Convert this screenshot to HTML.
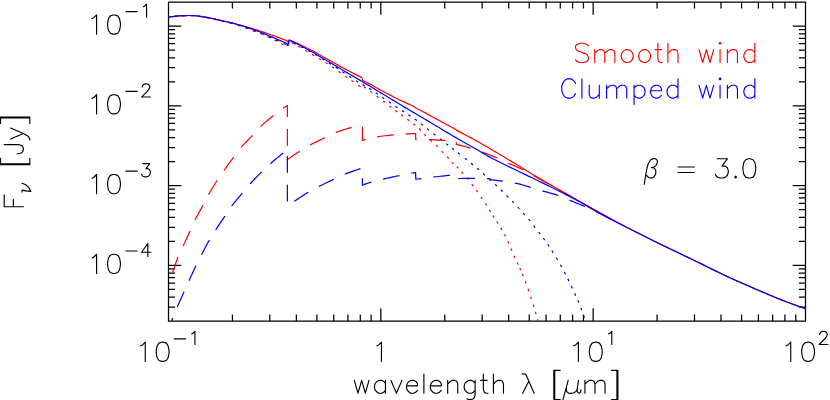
<!DOCTYPE html>
<html><head><meta charset="utf-8"><title>Smooth vs clumped wind spectrum</title>
<style>html,body{margin:0;padding:0;background:#fff;font-family:"Liberation Sans",sans-serif}svg{display:block}</style></head>
<body>
<svg width="830" height="400" viewBox="0 0 830 400">
<rect width="830" height="400" fill="#fff"/>
<defs><clipPath id="c"><rect x="168.5" y="2.0" width="637.0" height="319.1"/></clipPath></defs>
<path d="M232.42 321.1 v-6.6M232.42 2 v6.6M269.81 321.1 v-6.6M269.81 2 v6.6M296.34 321.1 v-6.6M296.34 2 v6.6M316.91 321.1 v-6.6M316.91 2 v6.6M333.73 321.1 v-6.6M333.73 2 v6.6M347.94 321.1 v-6.6M347.94 2 v6.6M360.26 321.1 v-6.6M360.26 2 v6.6M371.12 321.1 v-6.6M371.12 2 v6.6M380.83 321.1 v-12.8M380.83 2 v12.8M444.75 321.1 v-6.6M444.75 2 v6.6M482.14 321.1 v-6.6M482.14 2 v6.6M508.67 321.1 v-6.6M508.67 2 v6.6M529.25 321.1 v-6.6M529.25 2 v6.6M546.06 321.1 v-6.6M546.06 2 v6.6M560.28 321.1 v-6.6M560.28 2 v6.6M572.59 321.1 v-6.6M572.59 2 v6.6M583.45 321.1 v-6.6M583.45 2 v6.6M593.17 321.1 v-12.8M593.17 2 v12.8M657.09 321.1 v-6.6M657.09 2 v6.6M694.48 321.1 v-6.6M694.48 2 v6.6M721 321.1 v-6.6M721 2 v6.6M741.58 321.1 v-6.6M741.58 2 v6.6M758.39 321.1 v-6.6M758.39 2 v6.6M772.61 321.1 v-6.6M772.61 2 v6.6M784.92 321.1 v-6.6M784.92 2 v6.6M795.78 321.1 v-6.6M795.78 2 v6.6M168.5 307.05 h6.6M805.5 307.05 h-6.6M168.5 297.09 h6.6M805.5 297.09 h-6.6M168.5 289.35 h6.6M805.5 289.35 h-6.6M168.5 283.04 h6.6M805.5 283.04 h-6.6M168.5 277.7 h6.6M805.5 277.7 h-6.6M168.5 273.07 h6.6M805.5 273.07 h-6.6M168.5 268.99 h6.6M805.5 268.99 h-6.6M168.5 265.34 h12.8M805.5 265.34 h-12.8M168.5 241.33 h6.6M805.5 241.33 h-6.6M168.5 227.28 h6.6M805.5 227.28 h-6.6M168.5 217.31 h6.6M805.5 217.31 h-6.6M168.5 209.58 h6.6M805.5 209.58 h-6.6M168.5 203.26 h6.6M805.5 203.26 h-6.6M168.5 197.92 h6.6M805.5 197.92 h-6.6M168.5 193.3 h6.6M805.5 193.3 h-6.6M168.5 189.21 h6.6M805.5 189.21 h-6.6M168.5 185.56 h12.8M805.5 185.56 h-12.8M168.5 161.55 h6.6M805.5 161.55 h-6.6M168.5 147.5 h6.6M805.5 147.5 h-6.6M168.5 137.54 h6.6M805.5 137.54 h-6.6M168.5 129.8 h6.6M805.5 129.8 h-6.6M168.5 123.49 h6.6M805.5 123.49 h-6.6M168.5 118.15 h6.6M805.5 118.15 h-6.6M168.5 113.52 h6.6M805.5 113.52 h-6.6M168.5 109.44 h6.6M805.5 109.44 h-6.6M168.5 105.79 h12.8M805.5 105.79 h-12.8M168.5 81.78 h6.6M805.5 81.78 h-6.6M168.5 67.73 h6.6M805.5 67.73 h-6.6M168.5 57.76 h6.6M805.5 57.76 h-6.6M168.5 50.03 h6.6M805.5 50.03 h-6.6M168.5 43.71 h6.6M805.5 43.71 h-6.6M168.5 38.37 h6.6M805.5 38.37 h-6.6M168.5 33.75 h6.6M805.5 33.75 h-6.6M168.5 29.66 h6.6M805.5 29.66 h-6.6M168.5 26.01 h12.8M805.5 26.01 h-12.8" stroke="#000" stroke-width="1.25" fill="none"/>
<rect x="168.5" y="2.0" width="637.0" height="319.1" fill="none" stroke="#000" stroke-width="1.25" stroke-linejoin="round"/>
<g clip-path="url(#c)" fill="none" stroke-width="1.22" stroke-linejoin="round">
<path d="M173.6 16.52L176.08 16.21M181.67 15.89L184.17 15.81M189.77 15.71L192.27 15.72M197.84 16.22L200.31 16.58M205.84 17.46L208.3 17.94M213.75 19.21L216.18 19.78M221.63 21.09L224.06 21.69M229.48 23.09L231.9 23.73M237.3 25.21L239.69 25.92M245 27.69L247.35 28.57M252.58 30.56L254.93 31.42M260.09 33.29L262.39 34.26M267.38 36.7L269.63 37.78M274.48 40.05L276.7 41.2M281.4 43.9L283.61 45.08M287.69 45.98L288.16 43.53M291.37 42.38L293.6 43.49M298.33 46.26L300.48 47.53M305.17 50.27L307.32 51.54M312.03 54.36L314.18 55.64M318.93 58.46L321.07 59.75M325.44 62.43L327.55 63.78M332.07 66.8L334.13 68.21M338.73 71.48L340.77 72.92M345.18 75.98L347.22 77.43M351.48 80.48L353.53 81.91M358.23 85.18L360.26 86.63M363.75 86.82L365.83 88.2M370.23 91.27L372.26 92.74M376.71 96.04L378.69 97.56M383.02 100.98L384.98 102.52M389.31 105.93L391.3 107.46M395.29 110.43L397.31 111.91M401.32 114.85L403.33 116.34M407.31 119.33L409.33 120.81M413.33 123.78L415.3 125.32M419.08 128.55L420.88 130.29M424.17 134.07L425.9 135.87M430.07 139.76L431.94 141.43M436.09 145.14L437.85 146.92M441.57 151.07L443.28 152.89M447.13 156.7L448.82 158.54M451.78 162.06L453.52 163.84M456.68 166.56L458.46 168.31M461.57 171.76L463.26 173.61M467.18 177.75L468.75 179.7M471.8 184.16L473.26 186.19M476.24 190.01L477.7 192.04M480.91 196.96L482.32 199.03M485.3 203.36L486.66 205.46M489.36 209.93L490.67 212.05M492.92 215.55L494.29 217.64M496.72 221.35L498.06 223.46M500.76 227.92L502.03 230.08M504.4 234.3L505.55 236.52M507.77 241.17L508.82 243.44M511.01 248.35L511.93 250.67M513.97 255.73L514.91 258.04M517.05 262.48L518.16 264.72M519.76 268.07L520.81 270.33M522.26 273.75L523.22 276.06M525.24 281.14L526.1 283.48M528 288.82L528.82 291.18M530.7 296.62L531.46 299M533.14 304.5L533.88 306.89M535.42 311.91L536.12 314.31M537.46 319.1L538.09 321.52" stroke="#f00"/>
<path d="M174.91 16.36L177.39 16.1M182.98 15.8L185.48 15.7M191.08 15.61L193.58 15.69M199.14 16.3L201.61 16.68M207.14 17.59L209.59 18.09M215.05 19.33L217.49 19.88M222.94 21.16L225.37 21.75M230.8 23.12L233.22 23.74M238.62 25.21L241.02 25.93M246.3 27.79L248.64 28.68M253.88 30.65L256.22 31.53M261.43 33.57L263.74 34.53M268.86 36.8L271.13 37.84M276.26 40.09L278.62 40.92M283.8 43L285.82 44.44M288.08 43.62L288.57 41.17M293.58 43.16L295.85 44.21M300.89 46.65L303.11 47.79M308.03 50.47L310.21 51.69M315.06 54.5L317.2 55.79M321.97 58.72L324.1 60.04M328.85 62.99L330.97 64.32M335.7 67.32L337.8 68.68M342.46 71.8L344.54 73.19M349.21 76.31L351.29 77.69M355.96 80.8L358.03 82.2M362.82 84.41L364.78 85.96M369.12 88.37L371.25 89.68M375.77 92.79L377.83 94.21M382.22 97.29L384.29 98.7M388.96 101.8L391.03 103.21M395.47 106.29L397.54 107.69M401.92 110.53L404.03 111.88M408.4 114.73L410.47 116.13M414.77 119.09L416.81 120.54M421.01 123.64L422.97 125.18M427.04 128.6L428.98 130.18M433.41 133.64L435.39 135.16M440.01 138.64L441.97 140.19M446.04 143.6L447.98 145.17M452 148.24L453.99 149.76M458.01 152.84L459.99 154.36M465.02 158.23L466.97 159.79M471.04 163.2L472.96 164.8M477.05 168.19L478.94 169.83M483.07 173.56L484.93 175.24M489.07 178.96L490.93 180.63M495.08 184.36L496.91 186.06M500.71 189.73L502.49 191.48M506.52 195.51L508.29 197.28M512.13 201.11L513.86 202.9M517.75 207.08L519.44 208.93M523.17 213.07L524.85 214.92M528.58 219.06L530.18 220.98M533.65 225.6L535.17 227.59M538.63 232.01L540.17 233.99M543.25 238L544.73 240.02M547.7 244.27L549.08 246.35M551.83 250.65L553.19 252.74M556.35 257.63L557.61 259.79M560.4 264.8L561.62 266.99M564.41 272L565.55 274.22M567.86 278.87L568.93 281.13M571.27 286.12L572.33 288.38M574.67 293.37L575.72 295.64M577.79 300.26L578.76 302.56M580.81 307.93L581.7 310.27M583.56 315.33L584.41 317.68" stroke="#00f"/>
<path d="M170 280.3 L172.02 274.39 L174.05 268.35 L176.07 262.25 L178.1 256.76 L180.12 252.22 L182.14 248.05 L184.17 243.75 L186.19 239.45 L188.22 235.12 L190.24 230.72 L192.27 226.07 L194.29 221.49 L196.31 217.41 L198.34 213.68 L200.36 210.08 L202.39 206.4 L204.41 202.49 L206.43 198.53 L208.46 194.78 L210.48 191.23 L212.51 187.81 L214.53 184.5 L216.56 181.29 L218.58 178.21 L220.6 175.26 L222.63 172.38 L224.65 169.51 L226.68 166.67 L228.7 163.86 L230.72 161.09 L232.75 158.34 L234.77 155.59 L236.8 152.84 L238.82 150.19 L240.84 147.71 L242.87 145.44 L244.89 143.31 L246.92 141.25 L248.94 139.19 L250.97 137.08 L252.99 134.85 L255.01 132.5 L257.04 130.16 L259.06 127.94 L261.09 125.96 L263.11 124.12 L265.13 122.37 L267.16 120.69 L269.18 119.06 L271.21 117.44 L273.23 115.81 L275.26 114.17 L277.28 112.54 L279.3 110.96 L281.33 109.47 L283.35 108.09 L285.38 106.8 L287.4 105.6 L287.4 159.6 L289.43 158.12 L291.45 156.68 L293.48 155.27 L295.51 153.89 L297.54 152.55 L299.56 151.24 L301.59 149.96 L303.62 148.7 L305.64 147.48 L307.67 146.29 L309.7 145.16 L311.72 144.09 L313.75 143.07 L315.78 142.08 L317.81 141.11 L319.83 140.16 L321.86 139.21 L323.89 138.25 L325.91 137.25 L327.94 136.21 L329.97 135.17 L331.99 134.16 L334.02 133.21 L336.05 132.38 L338.08 131.63 L340.1 130.91 L342.13 130.23 L344.16 129.59 L346.18 128.99 L348.21 128.44 L350.24 127.92 L352.26 127.45 L354.29 127.01 L356.32 126.6 L358.35 126.23 L360.37 125.9 L362.4 125.6 L362.4 140.3 L364.45 139.7 L366.49 139.13 L368.54 138.59 L370.58 138.09 L372.63 137.64 L374.68 137.23 L376.72 136.88 L378.77 136.56 L380.82 136.27 L382.86 136 L384.91 135.75 L386.95 135.52 L389 135.3 L391.05 135.09 L393.09 134.89 L395.14 134.7 L397.18 134.51 L399.23 134.34 L401.28 134.19 L403.32 134.06 L405.37 133.95 L407.42 133.86 L409.46 133.77 L411.51 133.7 L413.55 133.64 L415.6 133.6 L415.6 139.2 L417.64 139.23 L419.68 139.26 L421.72 139.31 L423.76 139.37 L425.8 139.43 L427.84 139.49 L429.88 139.57 L431.92 139.67 L433.96 139.78 L436 139.9 L438.04 140.02 L440.08 140.15 L442.12 140.28 L444.16 140.41 L446.2 140.53 L448.24 140.66 L450.28 140.79 L452.32 140.93 L454.36 141.06 L456.4 141.2 L456.4 144.5 L458.4 144.95 L460.4 145.42 L462.4 145.92 L464.41 146.44 L466.41 146.98 L468.41 147.54 L470.41 148.12 L472.41 148.73 L474.41 149.38 L476.41 150.05 L478.42 150.75 L480.42 151.46 L482.42 152.19 L484.42 152.93 L486.42 153.69 L488.42 154.47 L490.42 155.26 L492.42 156.08 L494.43 156.91 L496.43 157.76 L498.43 158.62 L500.43 159.51 L502.43 160.43 L504.43 161.36 L506.43 162.28 L508.44 163.2 L510.44 164.09 L512.44 164.97 L514.44 165.84 L516.44 166.72 L518.44 167.62 L520.44 168.55 L522.45 169.52 L524.45 170.55 L526.45 171.65 L528.45 172.79 L530.45 173.95 L532.45 175.09 L534.45 176.21 L536.45 177.32 L538.46 178.43 L540.46 179.53 L542.46 180.64 L544.46 181.74 L546.46 182.85 L548.46 183.95 L550.46 185.06 L552.47 186.17 L554.47 187.28 L556.47 188.41 L558.47 189.53 L560.47 190.67 L562.47 191.81 L564.47 192.97 L566.48 194.13 L568.48 195.29 L570.48 196.46 L572.48 197.63 L574.48 198.8 L576.48 199.97 L578.48 201.13 L580.48 202.28 L582.49 203.43 L584.49 204.57 L586.49 205.72 L588.49 206.86 L590.49 208 L592.49 209.14 L594.49 210.28 L596.5 211.41 L598.5 212.54 L600.5 213.67 L602.5 214.8" stroke="#f00" stroke-dasharray="16.64 12.08" stroke-dashoffset="20.8"/>
<path d="M167.5 331 L169.53 325.18 L171.56 320.82 L173.6 316.08 L175.63 310.88 L177.66 305.96 L179.69 301.39 L181.73 296.95 L183.76 292.48 L185.79 287.89 L187.82 283.31 L189.85 278.83 L191.89 274.39 L193.92 270.05 L195.95 265.84 L197.98 261.72 L200.02 257.66 L202.05 253.67 L204.08 249.78 L206.11 245.98 L208.14 242.32 L210.18 238.8 L212.21 235.46 L214.24 232.22 L216.27 229.04 L218.31 225.92 L220.34 222.87 L222.37 219.84 L224.4 216.8 L226.43 213.7 L228.47 210.62 L230.5 207.69 L232.53 204.98 L234.56 202.43 L236.59 199.97 L238.63 197.56 L240.66 195.14 L242.69 192.66 L244.72 190.13 L246.76 187.63 L248.79 185.24 L250.82 182.99 L252.85 180.82 L254.88 178.72 L256.92 176.66 L258.95 174.64 L260.98 172.62 L263.01 170.62 L265.05 168.65 L267.08 166.72 L269.11 164.84 L271.14 163.03 L273.17 161.27 L275.21 159.55 L277.24 157.86 L279.27 156.18 L281.3 154.51 L283.34 152.83 L285.37 151.16 L287.4 149.5 L287.4 205.5 L289.43 204.25 L291.45 202.99 L293.48 201.73 L295.51 200.44 L297.54 199.12 L299.56 197.78 L301.59 196.44 L303.62 195.12 L305.64 193.83 L307.67 192.59 L309.7 191.41 L311.72 190.27 L313.75 189.16 L315.78 188.07 L317.81 187.01 L319.83 185.98 L321.86 184.97 L323.89 183.98 L325.91 183.01 L327.94 182.05 L329.97 181.1 L331.99 180.15 L334.02 179.2 L336.05 178.23 L338.08 177.26 L340.1 176.29 L342.13 175.37 L344.16 174.5 L346.18 173.68 L348.21 172.89 L350.24 172.12 L352.26 171.37 L354.29 170.65 L356.32 169.96 L358.35 169.3 L360.37 168.67 L362.4 168.1 L362.4 185.2 L364.45 184.42 L366.49 183.67 L368.54 182.96 L370.58 182.3 L372.63 181.7 L374.68 181.15 L376.72 180.63 L378.77 180.13 L380.82 179.65 L382.86 179.17 L384.91 178.7 L386.95 178.23 L389 177.78 L391.05 177.33 L393.09 176.89 L395.14 176.45 L397.18 176.01 L399.23 175.58 L401.28 175.13 L403.32 174.65 L405.37 174.17 L407.42 173.72 L409.46 173.33 L411.51 173.01 L413.55 172.78 L415.6 172.6 L415.8 179.2 L417.84 179 L419.88 178.79 L421.92 178.56 L423.96 178.31 L426 178.05 L428.04 177.77 L430.08 177.49 L432.12 177.23 L434.16 176.98 L436.2 176.74 L438.24 176.5 L440.28 176.26 L442.32 176.02 L444.36 175.81 L446.4 175.63 L448.44 175.48 L450.48 175.38 L452.52 175.3 L454.56 175.24 L456.6 175.2 L456.6 178.9 L458.7 178.66 L460.8 178.5 L462.9 178.48 L465 178.45 L467.1 178.43 L469.2 178.42 L471.3 178.41 L473.4 178.4 L475.5 178.4 L477.6 178.4 L479.7 178.42 L481.8 178.47 L483.9 178.53 L486 178.61 L488.1 178.7 L490.2 178.8 L490.4 179.7 L492.42 179.88 L494.45 180.08 L496.47 180.3 L498.5 180.54 L500.52 180.79 L502.55 181.06 L504.57 181.34 L506.6 181.63 L508.62 181.95 L510.65 182.28 L512.67 182.65 L514.7 183.04 L516.73 183.45 L518.75 183.91 L520.77 184.44 L522.8 185.03 L524.82 185.65 L526.85 186.29 L528.88 186.93 L530.9 187.55 L532.92 188.15 L534.95 188.73 L536.98 189.31 L539 189.89 L541.02 190.46 L543.05 191.04 L545.08 191.62 L547.1 192.2 L549.12 192.75 L551.15 193.31 L553.17 193.87 L555.2 194.46 L557.23 195.08 L559.25 195.74 L561.27 196.47 L563.3 197.29 L565.33 198.18 L567.35 199.1 L569.38 200.02 L571.4 200.91 L573.42 201.77 L575.45 202.61 L577.48 203.44 L579.5 204.27 L581.52 205.11 L583.55 205.96 L585.58 206.84 L587.6 207.74 L589.62 208.65 L591.65 209.58 L593.67 210.53 L595.7 211.5 L597.73 212.48 L599.75 213.48 L601.77 214.49 L603.8 215.51 L605.83 216.55 L607.85 217.6 L609.88 218.66 L611.9 219.74 L613.92 220.83 L615.95 221.94 L617.98 223.06 L620 224.2" stroke="#00f" stroke-dasharray="16.64 12.08" stroke-dashoffset="2.7"/>
<path d="M168.5 17.3 L170.51 16.9 L172.51 16.57 L174.52 16.31 L176.52 16.09 L178.53 15.92 L180.53 15.77 L182.54 15.64 L184.54 15.56 L186.55 15.53 L188.55 15.51 L190.56 15.5 L192.56 15.54 L194.57 15.72 L196.57 15.95 L198.58 16.18 L200.58 16.44 L202.59 16.73 L204.59 17.03 L206.6 17.37 L208.6 17.73 L210.61 18.12 L212.61 18.56 L214.62 19.02 L216.62 19.48 L218.63 19.94 L220.63 20.39 L222.64 20.84 L224.64 21.3 L226.65 21.76 L228.65 22.23 L230.66 22.71 L232.66 23.2 L234.67 23.71 L236.67 24.24 L238.68 24.79 L240.68 25.34 L242.69 25.89 L244.69 26.43 L246.7 26.97 L248.7 27.53 L250.71 28.11 L252.71 28.7 L254.72 29.31 L256.72 29.93 L258.73 30.57 L260.73 31.22 L262.74 31.88 L264.74 32.56 L266.75 33.26 L268.75 33.98 L270.76 34.71 L272.76 35.44 L274.77 36.17 L276.77 36.89 L278.78 37.63 L280.78 38.36 L282.79 39.11 L284.79 39.85 L286.8 40.6 L287.7 41.6 L288.3 41 L289.3 40 L291.31 40.82 L293.33 41.66 L295.34 42.52 L297.36 43.4 L299.37 44.31 L301.38 45.24 L303.4 46.2 L305.41 47.18 L307.43 48.18 L309.44 49.21 L311.45 50.25 L313.47 51.31 L315.48 52.41 L317.49 53.54 L319.51 54.68 L321.52 55.83 L323.54 56.98 L325.55 58.11 L327.56 59.24 L329.58 60.36 L331.59 61.49 L333.61 62.62 L335.62 63.75 L337.63 64.87 L339.65 66.01 L341.66 67.15 L343.68 68.28 L345.69 69.37 L347.7 70.45 L349.72 71.51 L351.73 72.56 L353.74 73.6 L355.76 74.63 L357.77 75.63 L359.79 76.63 L361.8 77.6 L362.8 80.6 L364.86 81.48 L366.92 82.45 L368.98 83.51 L371.04 84.64 L373.1 85.81 L375.16 87 L377.22 88.19 L379.28 89.36 L381.34 90.48 L383.4 91.58 L385.46 92.67 L387.52 93.74 L389.58 94.81 L391.64 95.87 L393.7 96.92 L395.76 97.94 L397.82 98.96 L399.88 99.95 L401.94 100.94 L404 101.92 L406.06 102.88 L408.12 103.83 L410.18 104.77 L412.24 105.69 L414.3 106.6 L415.7 108 L417.7 108.96 L419.71 109.95 L421.71 110.99 L423.72 112.06 L425.73 113.16 L427.73 114.26 L429.74 115.36 L431.74 116.44 L433.75 117.53 L435.75 118.61 L437.75 119.7 L439.76 120.79 L441.76 121.87 L443.77 122.96 L445.77 124.05 L447.78 125.14 L449.79 126.23 L451.79 127.32 L453.8 128.41 L455.8 129.5 L457 130.6 L459 131.6 L461.01 132.61 L463.01 133.64 L465.01 134.68 L467.01 135.73 L469.02 136.8 L471.02 137.88 L473.02 138.96 L475.03 140.06 L477.03 141.17 L479.03 142.29 L481.03 143.41 L483.04 144.54 L485.04 145.68 L487.04 146.84 L489.05 148.03 L491.05 149.23 L493.05 150.42 L495.05 151.61 L497.06 152.79 L499.06 153.98 L501.06 155.16 L503.07 156.35 L505.07 157.53 L507.07 158.72 L509.07 159.91 L511.08 161.11 L513.08 162.31 L515.08 163.51 L517.09 164.73 L519.09 165.94 L521.09 167.17 L523.09 168.42 L525.1 169.68 L527.1 170.95 L529.1 172.21 L531.11 173.45 L533.11 174.67 L535.11 175.87 L537.11 177.05 L539.12 178.23 L541.12 179.4 L543.12 180.56 L545.13 181.71 L547.13 182.86 L549.13 184.01 L551.14 185.15 L553.14 186.29 L555.14 187.43 L557.14 188.57 L559.15 189.71 L561.15 190.86 L563.15 192 L565.16 193.13 L567.16 194.27 L569.16 195.4 L571.16 196.53 L573.17 197.66 L575.17 198.78 L577.17 199.91 L579.18 201.04 L581.18 202.16 L583.18 203.29 L585.18 204.42 L587.19 205.54 L589.19 206.67 L591.19 207.79 L593.2 208.91 L595.2 210.04 L597.2 211.15 L599.2 212.27 L601.21 213.38 L603.21 214.49 L605.21 215.6 L607.22 216.72 L609.22 217.83 L611.22 218.93 L613.22 220.03 L615.23 221.13 L617.23 222.22 L619.23 223.29 L621.24 224.35 L623.24 225.41 L625.24 226.45 L627.24 227.49 L629.25 228.52 L631.25 229.55 L633.25 230.57 L635.26 231.59 L637.26 232.61 L639.26 233.63 L641.26 234.64 L643.27 235.66 L645.27 236.67 L647.27 237.68 L649.28 238.68 L651.28 239.68 L653.28 240.68 L655.28 241.68 L657.29 242.67 L659.29 243.65 L661.29 244.63 L663.3 245.6 L665.3 246.57 L667.3 247.53 L669.3 248.49 L671.31 249.45 L673.31 250.4 L675.31 251.36 L677.32 252.31 L679.32 253.27 L681.32 254.23 L683.32 255.19 L685.33 256.15 L687.33 257.1 L689.33 258.05 L691.34 259.01 L693.34 259.97 L695.34 260.93 L697.34 261.9 L699.35 262.88 L701.35 263.87 L703.35 264.87 L705.36 265.88 L707.36 266.89 L709.36 267.89 L711.36 268.87 L713.37 269.85 L715.37 270.83 L717.37 271.81 L719.38 272.78 L721.38 273.74 L723.38 274.7 L725.39 275.65 L727.39 276.59 L729.39 277.52 L731.39 278.44 L733.4 279.34 L735.4 280.24 L737.4 281.12 L739.41 282 L741.41 282.87 L743.41 283.74 L745.41 284.61 L747.42 285.48 L749.42 286.35 L751.42 287.22 L753.43 288.09 L755.43 288.97 L757.43 289.84 L759.43 290.71 L761.44 291.57 L763.44 292.43 L765.44 293.29 L767.45 294.13 L769.45 294.97 L771.45 295.8 L773.45 296.62 L775.46 297.44 L777.46 298.25 L779.46 299.06 L781.47 299.86 L783.47 300.65 L785.47 301.44 L787.47 302.22 L789.48 303 L791.48 303.77 L793.48 304.54 L795.49 305.29 L797.49 306.05 L799.49 306.79 L801.49 307.54 L803.5 308.27 L805.5 309" stroke="#f00"/>
<path d="M168.5 17.3 L170.53 16.9 L172.57 16.56 L174.6 16.3 L176.63 16.08 L178.66 15.91 L180.7 15.76 L182.73 15.63 L184.76 15.55 L186.79 15.53 L188.83 15.51 L190.86 15.5 L192.89 15.56 L194.93 15.76 L196.96 16 L198.99 16.23 L201.02 16.5 L203.06 16.8 L205.09 17.11 L207.12 17.46 L209.16 17.84 L211.19 18.24 L213.22 18.7 L215.25 19.17 L217.29 19.63 L219.32 20.09 L221.35 20.55 L223.38 21.01 L225.42 21.48 L227.45 21.94 L229.48 22.43 L231.52 22.92 L233.55 23.43 L235.58 23.95 L237.61 24.48 L239.65 25.04 L241.68 25.63 L243.71 26.26 L245.74 26.94 L247.78 27.63 L249.81 28.33 L251.84 29.04 L253.88 29.76 L255.91 30.5 L257.94 31.25 L259.97 32.01 L262.01 32.8 L264.04 33.63 L266.07 34.48 L268.11 35.37 L270.14 36.27 L272.17 37.17 L274.2 38.06 L276.24 38.93 L278.27 39.79 L280.3 40.65 L282.33 41.5 L284.37 42.35 L286.4 43.2 L287.6 45.6 L288.2 45 L289.3 40 L291.3 40.99 L293.3 41.98 L295.3 42.99 L297.3 44.01 L299.3 45.04 L301.3 46.08 L303.31 47.12 L305.31 48.18 L307.31 49.24 L309.31 50.33 L311.31 51.43 L313.31 52.56 L315.31 53.73 L317.31 54.93 L319.31 56.15 L321.31 57.37 L323.31 58.59 L325.31 59.79 L327.31 60.97 L329.32 62.16 L331.32 63.34 L333.32 64.52 L335.32 65.7 L337.32 66.89 L339.32 68.09 L341.32 69.29 L343.32 70.5 L345.32 71.69 L347.32 72.87 L349.32 74.04 L351.32 75.21 L353.32 76.37 L355.33 77.54 L357.33 78.7 L359.33 79.87 L361.33 81.05 L363.33 82.24 L365.33 83.44 L367.33 84.64 L369.33 85.85 L371.33 87.05 L373.33 88.27 L375.33 89.48 L377.33 90.69 L379.33 91.9 L381.34 93.11 L383.34 94.32 L385.34 95.53 L387.34 96.74 L389.34 97.95 L391.34 99.16 L393.34 100.37 L395.34 101.58 L397.34 102.79 L399.34 104 L401.34 105.21 L403.34 106.41 L405.34 107.61 L407.35 108.81 L409.35 110 L411.35 111.19 L413.35 112.38 L415.35 113.56 L417.35 114.74 L419.35 115.92 L421.35 117.09 L423.35 118.27 L425.35 119.45 L427.35 120.63 L429.35 121.82 L431.36 123.01 L433.36 124.2 L435.36 125.4 L437.36 126.6 L439.36 127.8 L441.36 129.01 L443.36 130.21 L445.36 131.41 L447.36 132.61 L449.36 133.8 L451.36 134.99 L453.36 136.17 L455.36 137.35 L457.37 138.51 L459.37 139.66 L461.37 140.81 L463.37 141.94 L465.37 143.07 L467.37 144.19 L469.37 145.31 L471.37 146.44 L473.37 147.56 L475.37 148.7 L477.37 149.84 L479.37 151 L481.37 152.18 L483.38 153.38 L485.38 154.57 L487.38 155.73 L489.38 156.86 L491.38 157.94 L493.38 158.99 L495.38 160.03 L497.38 161.04 L499.38 162.04 L501.38 163.03 L503.38 164 L505.38 164.97 L507.38 165.93 L509.39 166.89 L511.39 167.84 L513.39 168.8 L515.39 169.76 L517.39 170.73 L519.39 171.7 L521.39 172.68 L523.39 173.66 L525.39 174.64 L527.39 175.61 L529.39 176.58 L531.39 177.55 L533.39 178.52 L535.4 179.49 L537.4 180.46 L539.4 181.43 L541.4 182.4 L543.4 183.38 L545.4 184.35 L547.4 185.33 L549.4 186.32 L551.4 187.3 L553.4 188.3 L555.4 189.29 L557.4 190.3 L559.4 191.31 L561.41 192.32 L563.41 193.33 L565.41 194.35 L567.41 195.38 L569.41 196.4 L571.41 197.44 L573.41 198.49 L575.41 199.54 L577.41 200.6 L579.41 201.68 L581.41 202.77 L583.41 203.89 L585.41 205.03 L587.42 206.18 L589.42 207.35 L591.42 208.51 L593.42 209.67 L595.42 210.82 L597.42 211.96 L599.42 213.08 L601.42 214.18 L603.42 215.27 L605.42 216.35 L607.42 217.42 L609.42 218.48 L611.42 219.54 L613.43 220.59 L615.43 221.63 L617.43 222.67 L619.43 223.71 L621.43 224.73 L623.43 225.75 L625.43 226.76 L627.43 227.76 L629.43 228.75 L631.43 229.75 L633.43 230.74 L635.43 231.73 L637.43 232.72 L639.44 233.72 L641.44 234.72 L643.44 235.72 L645.44 236.73 L647.44 237.74 L649.44 238.74 L651.44 239.75 L653.44 240.75 L655.44 241.75 L657.44 242.74 L659.44 243.73 L661.44 244.71 L663.44 245.68 L665.45 246.64 L667.45 247.6 L669.45 248.56 L671.45 249.52 L673.45 250.47 L675.45 251.42 L677.45 252.38 L679.45 253.34 L681.45 254.3 L683.45 255.25 L685.45 256.21 L687.45 257.16 L689.46 258.11 L691.46 259.07 L693.46 260.03 L695.46 260.99 L697.46 261.96 L699.46 262.93 L701.46 263.92 L703.46 264.92 L705.46 265.93 L707.46 266.94 L709.46 267.94 L711.46 268.92 L713.46 269.9 L715.47 270.88 L717.47 271.85 L719.47 272.82 L721.47 273.79 L723.47 274.74 L725.47 275.69 L727.47 276.63 L729.47 277.56 L731.47 278.47 L733.47 279.38 L735.47 280.27 L737.47 281.15 L739.47 282.03 L741.48 282.9 L743.48 283.77 L745.48 284.64 L747.48 285.51 L749.48 286.37 L751.48 287.24 L753.48 288.12 L755.48 288.99 L757.48 289.86 L759.48 290.73 L761.48 291.59 L763.48 292.45 L765.48 293.3 L767.49 294.15 L769.49 294.99 L771.49 295.82 L773.49 296.65 L775.49 297.48 L777.49 298.3 L779.49 299.12 L781.49 299.93 L783.49 300.73 L785.49 301.51 L787.49 302.27 L789.49 303.02 L791.49 303.74 L793.5 304.45 L795.5 305.14 L797.5 305.82 L799.5 306.49 L801.5 307.14 L803.5 307.78 L805.5 308.4" stroke="#00f"/>
</g>
<path d="M92.04 18.61 L93.87 17.69 L96.61 14.95 L96.61 34.16M120.41 25.93 L119.49 30.5 L117.66 33.25 L114.91 34.16 L113.08 34.16 L110.34 33.25 L108.51 30.5 L107.59 25.93 L107.59 23.18 L108.51 18.61 L110.34 15.86 L113.08 14.95 L114.91 14.95 L117.66 15.86 L119.49 18.61 L120.41 23.18 L120.41 25.93M125.95 11.64 L137.2 11.64M143.45 6.64 L144.7 6.01 L146.57 4.14 L146.57 17.26M92.04 98.38 L93.87 97.47 L96.61 94.72 L96.61 113.94M120.41 105.7 L119.49 110.28 L117.66 113.02 L114.91 113.94 L113.08 113.94 L110.34 113.02 L108.51 110.28 L107.59 105.7 L107.59 102.96 L108.51 98.38 L110.34 95.64 L113.08 94.72 L114.91 94.72 L117.66 95.64 L119.49 98.38 L120.41 102.96 L120.41 105.7M125.95 91.41 L137.2 91.41M150.32 97.04 L141.57 97.04 L147.82 90.79 L149.07 88.91 L149.7 87.66 L149.7 86.41 L149.07 85.16 L148.45 84.54 L147.2 83.91 L144.7 83.91 L143.45 84.54 L142.82 85.16 L142.2 86.41 L142.2 87.04M92.04 178.16 L93.87 177.24 L96.61 174.5 L96.61 193.71M120.41 185.48 L119.49 190.05 L117.66 192.8 L114.91 193.71 L113.08 193.71 L110.34 192.8 L108.51 190.05 L107.59 185.48 L107.59 182.73 L108.51 178.16 L110.34 175.41 L113.08 174.5 L114.91 174.5 L117.66 175.41 L119.49 178.16 L120.41 182.73 L120.41 185.48M125.95 171.19 L137.2 171.19M141.57 174.31 L142.2 175.56 L142.82 176.19 L144.7 176.81 L146.57 176.81 L148.45 176.19 L149.7 174.94 L150.32 173.06 L150.32 171.81 L149.7 169.94 L149.07 169.31 L147.82 168.69 L145.95 168.69 L149.7 163.69 L142.82 163.69M92.04 257.93 L93.87 257.02 L96.61 254.27 L96.61 273.49M120.41 265.25 L119.49 269.83 L117.66 272.57 L114.91 273.49 L113.08 273.49 L110.34 272.57 L108.51 269.83 L107.59 265.25 L107.59 262.51 L108.51 257.93 L110.34 255.19 L113.08 254.27 L114.91 254.27 L117.66 255.19 L119.49 257.93 L120.41 262.51 L120.41 265.25M125.95 250.96 L137.2 250.96M150.95 252.21 L141.57 252.21 L147.82 243.46 L147.82 256.59M140.67 345.84 L142.5 344.93 L145.24 342.19 L145.24 361.4M169.03 353.16 L168.12 357.74 L166.29 360.48 L163.54 361.4 L161.71 361.4 L158.97 360.48 L157.14 357.74 L156.22 353.16 L156.22 350.42 L157.14 345.84 L158.97 343.1 L161.71 342.19 L163.54 342.19 L166.29 343.1 L168.12 345.84 L169.03 350.42 L169.03 353.16M174.28 338.88 L185.53 338.88M191.78 333.88 L193.03 333.25 L194.9 331.38 L194.9 344.5M376.87 345.84 L378.7 344.93 L381.45 342.19 L381.45 361.4M573.81 345.84 L575.64 344.93 L578.38 342.19 L578.38 361.4M602.17 353.16 L601.26 357.74 L599.43 360.48 L596.68 361.4 L594.85 361.4 L592.11 360.48 L590.28 357.74 L589.36 353.16 L589.36 350.42 L590.28 345.84 L592.11 343.1 L594.85 342.19 L596.68 342.19 L599.43 343.1 L601.26 345.84 L602.17 350.42 L602.17 353.16M608.67 333.88 L609.92 333.25 L611.79 331.38 L611.79 344.5M786.14 345.84 L787.97 344.93 L790.72 342.19 L790.72 361.4M814.51 353.16 L813.59 357.74 L811.76 360.48 L809.02 361.4 L807.19 361.4 L804.44 360.48 L802.61 357.74 L801.7 353.16 L801.7 350.42 L802.61 345.84 L804.44 343.1 L807.19 342.19 L809.02 342.19 L811.76 343.1 L813.59 345.84 L814.51 350.42 L814.51 353.16M827.88 344.5 L819.13 344.5 L825.38 338.25 L826.63 336.38 L827.25 335.12 L827.25 333.88 L826.63 332.62 L826 332 L824.75 331.38 L822.25 331.38 L821 332 L820.38 332.62 L819.75 333.88 L819.75 334.5M354.35 380.39 L358 393.2 L361.67 380.39 L365.33 393.2 L368.99 380.39M385.46 390.45 L383.62 392.28 L381.8 393.2 L379.05 393.2 L377.22 392.28 L375.39 390.45 L374.48 387.71 L374.48 385.88 L375.39 383.13 L377.22 381.31 L379.05 380.39 L381.8 380.39 L383.62 381.31 L385.46 383.13M385.46 393.2 L385.46 380.39M390.95 380.39 L396.44 393.2 L401.93 380.39M417.48 390.45 L415.65 392.28 L413.82 393.2 L411.08 393.2 L409.25 392.28 L407.42 390.45 L406.5 387.71 L406.5 385.88 L407.42 383.13 L409.25 381.31 L411.08 380.39 L413.82 380.39 L415.65 381.31 L416.57 382.22 L417.48 384.05 L417.48 385.88 L406.5 385.88M423.88 393.2 L423.88 373.99M441.27 390.45 L439.44 392.28 L437.61 393.2 L434.87 393.2 L433.04 392.28 L431.21 390.45 L430.29 387.71 L430.29 385.88 L431.21 383.13 L433.04 381.31 L434.87 380.39 L437.61 380.39 L439.44 381.31 L440.36 382.22 L441.27 384.05 L441.27 385.88 L430.29 385.88M447.68 393.2 L447.68 380.39M447.68 384.05 L450.42 381.31 L452.25 380.39 L455 380.39 L456.83 381.31 L457.74 384.05 L457.74 393.2M475.12 390.45 L473.3 392.28 L471.47 393.2 L468.72 393.2 L466.89 392.28 L465.06 390.45 L464.15 387.71 L464.15 385.88 L465.06 383.13 L466.89 381.31 L468.72 380.39 L471.47 380.39 L473.3 381.31 L475.12 383.13M466.89 398.69 L468.72 399.6 L471.47 399.6 L473.3 398.69 L474.21 397.77 L475.12 395.03 L475.12 380.39M480.62 380.39 L487.02 380.39M487.94 393.2 L486.11 393.2 L484.28 392.28 L483.36 389.54 L483.36 373.99M493.43 393.2 L493.43 373.99M493.43 384.05 L496.17 381.31 L498 380.39 L500.75 380.39 L502.58 381.31 L503.49 384.05 L503.49 393.2M521.97 373.99 L523.8 373.8 L525.18 374.17 L526.18 375.08 L526.82 376.46 L534.14 393.2M528.65 381.58 L522.61 393.2M560.22 370.32 L553.82 370.32 L553.82 399.6 L560.22 399.6M554.73 370.32 L554.73 399.6M568.18 380.39 L562.97 399.6M566.53 386.8 L566.26 389.54 L566.62 391.37 L567.54 392.47 L568.91 393.11 L570.74 393.38 L572.57 393.2 L574.4 392.56 L575.96 391.37 L577.61 389.08M578.52 380.39 L577.15 389.08 L577.15 390.91 L577.7 392.38 L578.89 393.11 L579.89 392.83 L580.62 391.74 L580.99 389.91M584.93 393.2 L584.93 380.39M584.93 384.05 L587.67 381.31 L589.5 380.39 L592.25 380.39 L594.08 381.31 L594.99 384.05 L594.99 393.2M594.99 384.05 L597.74 381.31 L599.57 380.39 L602.31 380.39 L604.14 381.31 L605.06 384.05 L605.06 393.2M616.95 370.32 L616.95 399.6M611.46 370.32 L617.87 370.32 L617.87 399.6 L611.46 399.6M23.4 206.74 L4.18 206.74 L4.18 194.84M13.33 206.74 L13.33 199.42M22.05 192.06 L22.05 190.18 L25.8 190.81 L30.8 191.43 L28.93 187.68 L27.05 185.81 L25.18 184.56 L23.93 183.93 L22.05 183.31M0.52 158.29 L0.52 164.69 L29.8 164.69 L29.8 158.29M0.52 163.78 L29.8 163.78M4.18 144.56 L18.82 144.56 L21.57 145.48 L22.48 146.39 L23.4 148.22 L23.4 150.05 L22.48 151.88 L21.57 152.8 L18.82 153.71 L16.99 153.71M29.8 139.99 L29.8 139.07 L28.89 137.24 L27.06 135.41 L23.4 133.58 L10.59 128.09M10.59 139.07 L23.4 133.58M0.52 118.03 L29.8 118.03M0.52 123.52 L0.52 117.11 L29.8 117.11 L29.8 123.52M677.96 172.51 L694.43 172.51M677.96 167.02 L694.43 167.02M715.47 174.34 L716.39 176.17 L717.3 177.09 L720.05 178 L722.79 178 L725.54 177.09 L727.37 175.25 L728.28 172.51 L728.28 170.68 L727.37 167.94 L726.45 167.02 L724.62 166.1 L721.88 166.1 L727.37 158.78 L717.3 158.78M735.61 176.17 L734.69 177.09 L735.61 178 L736.52 177.09 L735.61 176.17M755.73 169.76 L754.82 174.34 L752.99 177.09 L750.25 178 L748.41 178 L745.67 177.09 L743.84 174.34 L742.92 169.76 L742.92 167.02 L743.84 162.44 L745.67 159.7 L748.41 158.78 L750.25 158.78 L752.99 159.7 L754.82 162.44 L755.73 167.02 L755.73 169.76M644.23 184.5 L645.51 175.99 L646.98 168.03 L648.08 164.28 L649.54 161.53 L650.82 159.7 L652.28 158.88 L653.75 158.6 L655.12 158.69 L656.31 159.24 L657.04 160.16 L657.41 161.35 L657.23 162.63 L656.77 164.09 L656.04 165.37 L655.03 166.38 L653.75 167.11 L651.46 167.48 L653.75 167.84 L654.85 168.85 L655.58 170.04 L655.85 171.59 L655.76 173.43 L655.12 175.16 L654.11 176.44 L652.83 177.45 L651.46 177.91 L650.09 177.91 L648.72 177.45 L647.53 176.54 L646.61 175.35" stroke="#000" stroke-width="1.15" fill="none" stroke-linecap="round" stroke-linejoin="round"/>
<path d="M575.5 59.76 L577.33 61.59 L580.08 62.5 L583.74 62.5 L586.48 61.59 L588.31 59.76 L588.31 57.01 L587.39 55.18 L586.48 54.27 L584.65 53.35 L579.16 51.52 L577.33 50.61 L576.41 49.69 L575.5 47.86 L575.5 46.03 L577.33 44.2 L580.08 43.28 L583.74 43.28 L586.48 44.2 L588.31 46.03M594.72 62.5 L594.72 49.69M594.72 53.35 L597.46 50.61 L599.29 49.69 L602.03 49.69 L603.87 50.61 L604.78 53.35 L604.78 62.5M604.78 53.35 L607.52 50.61 L609.36 49.69 L612.1 49.69 L613.93 50.61 L614.85 53.35 L614.85 62.5M633.14 57.01 L632.23 59.76 L630.4 61.59 L628.57 62.5 L625.83 62.5 L624 61.59 L622.16 59.76 L621.25 57.01 L621.25 55.18 L622.16 52.44 L624 50.61 L625.83 49.69 L628.57 49.69 L630.4 50.61 L632.23 52.44 L633.14 55.18 L633.14 57.01M650.53 57.01 L649.62 59.76 L647.78 61.59 L645.96 62.5 L643.21 62.5 L641.38 61.59 L639.55 59.76 L638.63 57.01 L638.63 55.18 L639.55 52.44 L641.38 50.61 L643.21 49.69 L645.96 49.69 L647.78 50.61 L649.62 52.44 L650.53 55.18 L650.53 57.01M655.11 49.69 L661.51 49.69M662.42 62.5 L660.6 62.5 L658.76 61.59 L657.85 58.84 L657.85 43.28M667.91 62.5 L667.91 43.28M667.91 53.35 L670.66 50.61 L672.49 49.69 L675.24 49.69 L677.07 50.61 L677.98 53.35 L677.98 62.5M699.02 49.69 L702.68 62.5 L706.35 49.69 L710 62.5 L713.66 49.69M720.07 42.37 L719.15 43.28 L720.07 44.2 L720.99 43.28 L720.07 42.37M720.07 62.5 L720.07 49.69M727.39 62.5 L727.39 49.69M727.39 53.35 L730.13 50.61 L731.97 49.69 L734.71 49.69 L736.54 50.61 L737.46 53.35 L737.46 62.5M754.84 59.76 L753.01 61.59 L751.18 62.5 L748.43 62.5 L746.61 61.59 L744.77 59.76 L743.86 57.01 L743.86 55.18 L744.77 52.44 L746.61 50.61 L748.43 49.69 L751.18 49.69 L753.01 50.61 L754.84 52.44M754.84 62.5 L754.84 43.28" stroke="#f00" stroke-width="1.15" fill="none" stroke-linecap="round" stroke-linejoin="round"/>
<path d="M575.5 93.52 L574.58 95.35 L572.75 97.18 L570.92 98.1 L567.26 98.1 L565.43 97.18 L563.61 95.35 L562.69 93.52 L561.77 90.78 L561.77 86.2 L562.69 83.46 L563.61 81.63 L565.43 79.8 L567.26 78.88 L570.92 78.88 L572.75 79.8 L574.58 81.63 L575.5 83.46M581.9 98.1 L581.9 78.88M599.29 94.44 L596.54 97.18 L594.71 98.1 L591.97 98.1 L590.14 97.18 L589.23 94.44 L589.23 85.29M599.29 98.1 L599.29 85.29M606.61 98.1 L606.61 85.29M606.61 88.95 L609.36 86.2 L611.18 85.29 L613.93 85.29 L615.76 86.2 L616.67 88.95 L616.67 98.1M616.67 88.95 L619.42 86.2 L621.25 85.29 L624 85.29 L625.82 86.2 L626.74 88.95 L626.74 98.1M634.06 104.5 L634.06 85.29M634.06 95.35 L635.89 97.18 L637.72 98.1 L640.46 98.1 L642.29 97.18 L644.12 95.35 L645.04 92.61 L645.04 90.78 L644.12 88.03 L642.29 86.2 L640.46 85.29 L637.72 85.29 L635.89 86.2 L634.06 88.03M661.51 95.35 L659.68 97.18 L657.85 98.1 L655.11 98.1 L653.27 97.18 L651.44 95.35 L650.53 92.61 L650.53 90.78 L651.44 88.03 L653.27 86.2 L655.11 85.29 L657.85 85.29 L659.68 86.2 L660.6 87.12 L661.51 88.95 L661.51 90.78 L650.53 90.78M677.98 95.35 L676.15 97.18 L674.32 98.1 L671.58 98.1 L669.75 97.18 L667.91 95.35 L667 92.61 L667 90.78 L667.91 88.03 L669.75 86.2 L671.58 85.29 L674.32 85.29 L676.15 86.2 L677.98 88.03M677.98 98.1 L677.98 78.88M699.02 85.29 L702.68 98.1 L706.35 85.29 L710 98.1 L713.66 85.29M720.07 77.97 L719.15 78.88 L720.07 79.8 L720.98 78.88 L720.07 77.97M720.07 98.1 L720.07 85.29M727.39 98.1 L727.39 85.29M727.39 88.95 L730.13 86.2 L731.96 85.29 L734.71 85.29 L736.54 86.2 L737.45 88.95 L737.45 98.1M754.84 95.35 L753.01 97.18 L751.18 98.1 L748.43 98.1 L746.61 97.18 L744.77 95.35 L743.86 92.61 L743.86 90.78 L744.77 88.03 L746.61 86.2 L748.43 85.29 L751.18 85.29 L753.01 86.2 L754.84 88.03M754.84 98.1 L754.84 78.88" stroke="#00f" stroke-width="1.15" fill="none" stroke-linecap="round" stroke-linejoin="round"/>
</svg>
</body></html>
